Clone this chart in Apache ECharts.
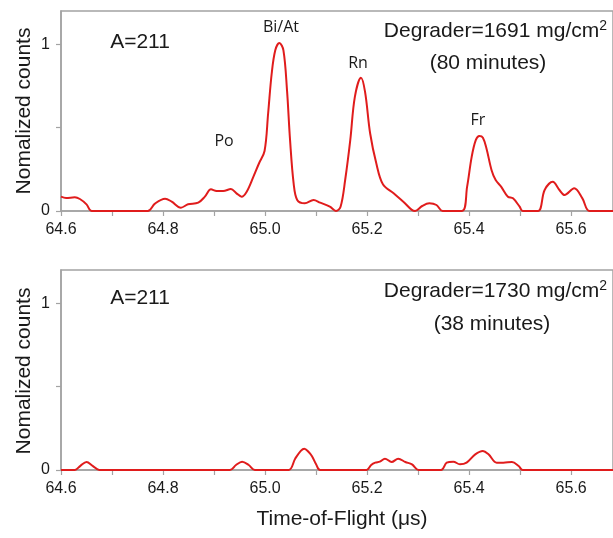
<!DOCTYPE html>
<html>
<head>
<meta charset="utf-8">
<script src="https://cdn.jsdelivr.net/npm/echarts@6/dist/echarts.min.js"></script>
<style>
html,body{margin:0;padding:0;background:#fff;}
#c{width:613px;height:538px;}
</style>
</head>
<body>
<div id="c"></div>
<script>
// ---- data ----
const topTime = [64.600,64.610,64.627,64.637,64.650,64.660,64.770,64.784,64.804,64.817,64.835,64.849,64.869,64.882,64.894,64.905,64.918,64.933,64.944,64.954,64.964,64.977,64.988,64.999,65.006,65.013,65.020,65.028,65.036,65.043,65.049,65.056,65.063,65.078,65.095,65.108,65.127,65.139,65.148,65.157,65.167,65.176,65.188,65.196,65.206,65.218,65.231,65.252,65.271,65.294,65.308,65.322,65.336,65.348,65.386,65.396,65.405,65.413,65.420,65.427,65.434,65.444,65.452,65.463,65.476,65.486,65.499,65.505,65.535,65.548,65.564,65.577,65.587,65.606,65.622,65.636,65.682];
const topCounts = [0.086,0.078,0.082,0.072,0.040,0.000,0.000,0.044,0.074,0.056,0.020,0.040,0.050,0.086,0.130,0.120,0.120,0.132,0.106,0.086,0.116,0.205,0.285,0.360,0.585,0.825,0.964,1.008,0.964,0.725,0.425,0.166,0.066,0.046,0.066,0.050,0.026,0.000,0.026,0.186,0.425,0.685,0.800,0.715,0.465,0.286,0.160,0.106,0.056,0.000,0.030,0.046,0.036,0.000,0.000,0.145,0.325,0.425,0.450,0.440,0.375,0.245,0.186,0.145,0.086,0.076,0.026,0.000,0.000,0.126,0.175,0.126,0.096,0.136,0.076,0.000,0.000];

const botTime = [64.600,64.627,64.638,64.650,64.662,64.675,64.931,64.943,64.955,64.968,64.980,65.046,65.059,65.070,65.077,65.085,65.092,65.100,65.108,65.199,65.208,65.216,65.225,65.235,65.248,65.261,65.275,65.288,65.301,65.345,65.356,65.369,65.382,65.395,65.412,65.427,65.438,65.454,65.467,65.484,65.497,65.505,65.682];
const botCounts = [0,0,0.025,0.048,0.025,0,0,0.030,0.050,0.030,0,0,0.068,0.115,0.128,0.110,0.083,0.035,0,0,0.030,0.044,0.050,0.068,0.048,0.068,0.048,0.034,0,0,0.044,0.050,0.034,0.044,0.094,0.114,0.094,0.044,0.044,0.048,0.024,0,0];

const xTickValues = [64.6,64.7,64.8,64.9,65.0,65.1,65.2,65.3,65.4,65.5,65.6];
const xLabelValues = [64.6,64.8,65.0,65.2,65.4,65.6];
const yTickValues = [0,0.5,1];
const yLabelValues = [0,1];

const peakLabels = ['Po','Bi/At','Rn','Fr'];
const panelTexts = {
  top: {mass:'A=211', degrader:'Degrader=1691 mg/cm', sup:'2', time:'(80 minutes)'},
  bottom: {mass:'A=211', degrader:'Degrader=1730 mg/cm', sup:'2', time:'(38 minutes)'}
};
const yTitle = 'Nomalized counts';
const xTitle = 'Time-of-Flight (μs)';

// ---- chart ----
const FONT = '"Liberation Sans", Arial, sans-serif';
const AXIS_GRAY = '#a3a3a3';
const RED = '#e01c1c';

function pairs(xs, ys){ return xs.map((x,i)=>[x, ys[i]]); }

function xAxisCfg(gi){
  return {
    type:'value', gridIndex:gi, min:64.6, max:65.682,
    axisLine:{show:true, onZero:false, lineStyle:{color:AXIS_GRAY, width:1.5}},
    axisTick:{show:true, customValues:xTickValues, length:5, lineStyle:{color:AXIS_GRAY, width:1.2}},
    axisLabel:{customValues:xLabelValues, formatter:v=>v.toFixed(1), color:'#1a1a1a', fontSize:16, fontFamily:FONT, margin:11},
    splitLine:{show:false}
  };
}
function yAxisCfg(gi){
  return {
    type:'value', gridIndex:gi, min:0, max:1.2,
    axisLine:{show:true, lineStyle:{color:AXIS_GRAY, width:1.5}},
    axisTick:{show:true, customValues:yTickValues, length:5, lineStyle:{color:AXIS_GRAY, width:1.2}},
    axisLabel:{customValues:yLabelValues, formatter:v=>String(v), color:'#1a1a1a', fontSize:16, fontFamily:FONT, margin:11},
    splitLine:{show:false}
  };
}

function txt(x, y, text, size, align, family, rot){
  return {type:'text', x:x, y:y, rotation:rot||0, z:10,
    style:{text:text, fill:'#1a1a1a', font: size+'px '+(family||FONT), align:align||'center', verticalAlign:'middle'}};
}
function supTxt(x, y, main, sup){
  return {type:'text', x:x, y:y, z:10,
    style:{text:'{a|'+main+'}{s|'+sup+'}', align:'right', verticalAlign:'middle', fill:'#1a1a1a',
      rich:{
        a:{fontSize:21, fontFamily:FONT, lineHeight:24, fill:'#1a1a1a', verticalAlign:'middle'},
        s:{fontSize:14, fontFamily:FONT, lineHeight:14, fill:'#1a1a1a', verticalAlign:'top'}
      }}};
}
const PEAKFONT = '"Open Sans", "Noto Sans", sans-serif';

const chart = echarts.init(document.getElementById('c'), null, {renderer:'canvas'});
chart.setOption({
  animation:false,
  backgroundColor:'#fff',
  grid:[
    {left:61, top:11, width:553, height:200, show:true, borderColor:AXIS_GRAY, borderWidth:1.5, backgroundColor:'transparent'},
    {left:61, top:270, width:553, height:200, show:true, borderColor:AXIS_GRAY, borderWidth:1.5, backgroundColor:'transparent'}
  ],
  xAxis:[xAxisCfg(0), xAxisCfg(1)],
  yAxis:[yAxisCfg(0), yAxisCfg(1)],
  series:[
    {type:'line', xAxisIndex:0, yAxisIndex:0, data:pairs(topTime, topCounts), showSymbol:false, smooth:0.35, lineStyle:{color:RED, width:2}, clip:true},
    {type:'line', xAxisIndex:1, yAxisIndex:1, data:pairs(botTime, botCounts), showSymbol:false, smooth:0.35, lineStyle:{color:RED, width:2}, clip:true}
  ],
  graphic:[
    txt(140, 42, panelTexts.top.mass, 21),
    supTxt(607, 31, panelTexts.top.degrader, panelTexts.top.sup),
    txt(488, 63, panelTexts.top.time, 21),
    txt(224, 141, peakLabels[0], 16, 'center', PEAKFONT),
    txt(281, 27, peakLabels[1], 16, 'center', PEAKFONT),
    txt(358, 63, peakLabels[2], 16, 'center', PEAKFONT),
    txt(478, 120, peakLabels[3], 16, 'center', PEAKFONT),
    txt(140, 298, panelTexts.bottom.mass, 21),
    supTxt(607, 291, panelTexts.bottom.degrader, panelTexts.bottom.sup),
    txt(492, 324, panelTexts.bottom.time, 21),
    txt(24, 111, yTitle, 21, 'center', FONT, Math.PI/2),
    txt(24, 371, yTitle, 21, 'center', FONT, Math.PI/2),
    txt(342, 519, xTitle, 21)
  ]
});
</script>
</body>
</html>
